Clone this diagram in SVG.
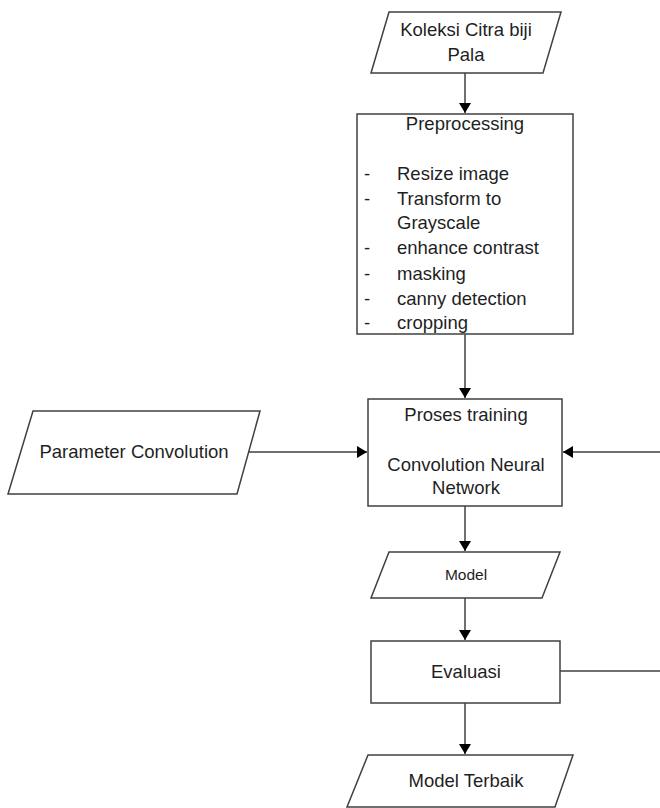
<svg xmlns="http://www.w3.org/2000/svg" width="660" height="808" viewBox="0 0 660 808">
<style>
.shape{fill:#fff;stroke:#404040;stroke-width:1.5}
.conn{fill:none;stroke:#404040;stroke-width:1.5}
text{font-family:"Liberation Sans",Arial,sans-serif;font-size:18.5px;fill:#1f1f1f}
.c{text-anchor:middle}
.s{font-size:15.5px}
</style>
<defs>
<marker id="ah" markerWidth="10" markerHeight="12" refX="10" refY="6" orient="auto" markerUnits="userSpaceOnUse">
<path d="M0,0 L10,6 L0,12 Z" fill="#000"/>
</marker>
</defs>
<rect width="660" height="808" fill="#fff"/>
<g id="connectors">
<line class="conn" x1="465" y1="73" x2="465" y2="113" marker-end="url(#ah)"/>
<line class="conn" x1="465" y1="334" x2="465" y2="398" marker-end="url(#ah)"/>
<line class="conn" x1="248" y1="452" x2="367" y2="452" marker-end="url(#ah)"/>
<line class="conn" x1="660" y1="452" x2="563" y2="452" marker-end="url(#ah)"/>
<line class="conn" x1="465" y1="506" x2="465" y2="551" marker-end="url(#ah)"/>
<line class="conn" x1="465" y1="598" x2="465" y2="640" marker-end="url(#ah)"/>
<line class="conn" x1="560" y1="671" x2="660" y2="671"/>
<line class="conn" x1="465" y1="703" x2="465" y2="754" marker-end="url(#ah)"/>
</g>
<g id="koleksi">
<polygon class="shape" points="389,12 561,12 543,73 371,73"/>
<text class="c" x="466" y="36">Koleksi Citra biji</text>
<text class="c" x="466" y="61">Pala</text>
</g>
<g id="preprocessing">
<rect class="shape" x="357" y="114" width="216" height="220"/>
<text class="c" x="465" y="130">Preprocessing</text>
<text x="364" y="180">-</text><text x="397" y="180">Resize image</text>
<text x="364" y="205">-</text><text x="397" y="205">Transform to</text>
<text x="397" y="229">Grayscale</text>
<text x="364" y="254">-</text><text x="397" y="254">enhance contrast</text>
<text x="364" y="280">-</text><text x="397" y="280">masking</text>
<text x="364" y="305">-</text><text x="397" y="305">canny detection</text>
<text x="364" y="329">-</text><text x="397" y="329">cropping</text>
</g>
<g id="parameter">
<polygon class="shape" points="33,411 260,411 237,494 8,494"/>
<text class="c" x="134" y="458">Parameter Convolution</text>
</g>
<g id="training">
<rect class="shape" x="368" y="399" width="194" height="107"/>
<text class="c" x="466" y="421">Proses training</text>
<text class="c" x="466" y="471">Convolution Neural</text>
<text class="c" x="466" y="494">Network</text>
</g>
<g id="model">
<polygon class="shape" points="389,552 560,552 542,598 371,598"/>
<text class="c s" x="466" y="580">Model</text>
</g>
<g id="evaluasi">
<rect class="shape" x="371" y="641" width="189" height="62"/>
<text class="c" x="466" y="678">Evaluasi</text>
</g>
<g id="terbaik">
<polygon class="shape" points="368,755 573,755 555,807 347,807"/>
<text class="c" x="466" y="787">Model Terbaik</text>
</g>
</svg>
